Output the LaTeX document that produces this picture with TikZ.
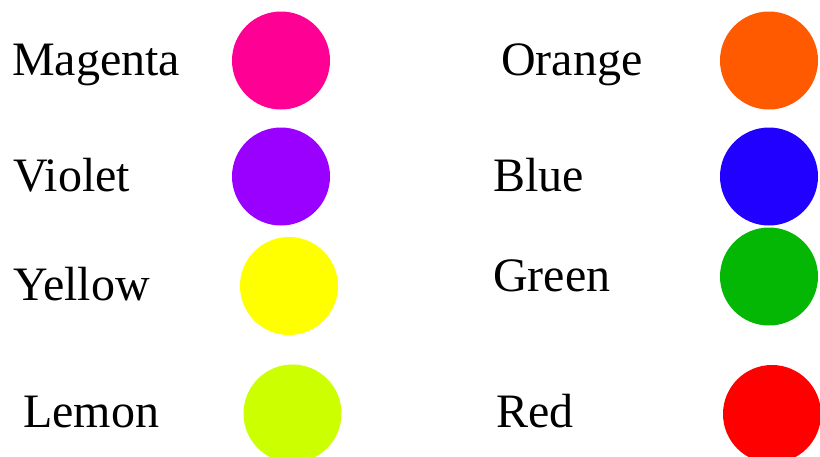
\documentclass[tikz,border=0pt]{standalone}
\usepackage{fontspec}
\setmainfont{Liberation Serif}
\definecolor{cMagenta}{HTML}{FF0094}
\definecolor{cViolet}{HTML}{9900FF}
\definecolor{cYellow}{HTML}{FFFF00}
\definecolor{cLemon}{HTML}{CCFF00}
\definecolor{cOrange}{HTML}{FF5A00}
\definecolor{cBlue}{HTML}{2200FF}
\definecolor{cGreen}{HTML}{05B705}
\definecolor{cRed}{HTML}{FF0000}
\tikzset{
  lbl/.style={anchor=base west, inner sep=0pt, font=\fontsize{48}{58}\selectfont},
  dot/.style={circle, inner sep=0pt, minimum size=98pt, fill=#1, draw=none}
}
\begin{document}
\begin{tikzpicture}[x=1pt,y=-1pt]
\useasboundingbox (0,0) rectangle (820,456);
\clip (0,0) rectangle (820,456);
\node[lbl] (tMagenta) at (12,75) {Magenta};
\node[lbl] (tViolet) at (13,191) {Violet};
\node[lbl] (tYellow) at (13,300) {Yellow};
\node[lbl] (tLemon) at (23,427) {Lemon};
\node[lbl] (tOrange) at (501,75) {Orange};
\node[lbl] (tBlue) at (493,191) {Blue};
\node[lbl] (tGreen) at (493,291) {Green};
\node[lbl] (tRed) at (496,427) {Red};
\node[dot=cMagenta] (cMag) at (281,60.5) {};
\node[dot=cViolet] (cVio) at (281,176.5) {};
\node[dot=cYellow] (cYel) at (289,286) {};
\node[dot=cLemon] (cLem) at (292.5,413.5) {};
\node[dot=cOrange] (cOra) at (769,60.5) {};
\node[dot=cBlue] (cBlu) at (769,176.5) {};
\node[dot=cGreen] (cGre) at (769,276.5) {};
\node[dot=cRed] (cRe) at (772,414) {};
\end{tikzpicture}
\end{document}
